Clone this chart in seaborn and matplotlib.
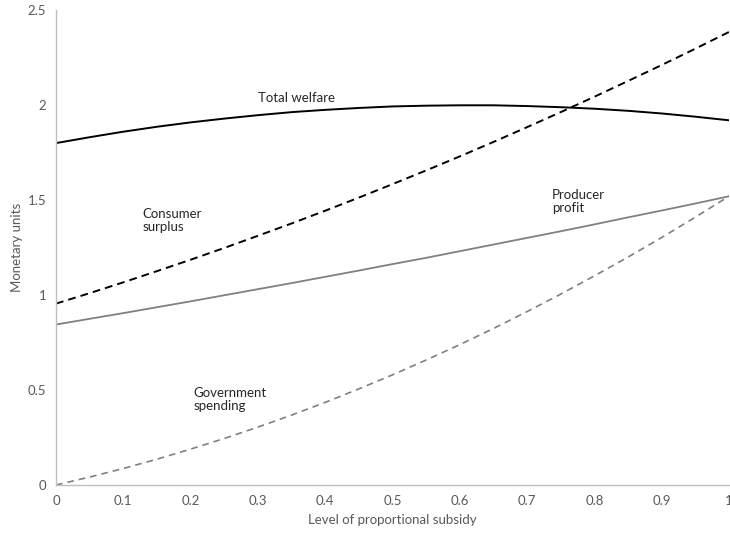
import pandas as pd
import seaborn as sns
import matplotlib.pyplot as plt

# Values
subsidy = [0.0, 0.05, 0.1, 0.15, 0.2, 0.25, 0.3, 0.35, 0.4, 0.45, 0.5,
           0.55, 0.6, 0.65, 0.7, 0.75, 0.8, 0.85, 0.9, 0.95, 1.0]
total_welfare = [1.800, 1.831, 1.860, 1.886, 1.909, 1.929, 1.947, 1.963, 1.975, 1.985, 1.993,
                 1.997, 1.999, 1.999, 1.995, 1.989, 1.981, 1.970, 1.956, 1.939, 1.920]
consumer_surplus = [0.955, 1.010, 1.067, 1.126, 1.186, 1.248, 1.312, 1.377, 1.444, 1.513, 1.584,
                    1.656, 1.730, 1.806, 1.884, 1.963, 2.044, 2.127, 2.211, 2.297, 2.385]
producer_profit = [0.845, 0.875, 0.905, 0.936, 0.967, 0.999, 1.031, 1.063, 1.096, 1.129, 1.163,
                   1.196, 1.231, 1.266, 1.301, 1.336, 1.372, 1.409, 1.445, 1.482, 1.520]
gov_spending = [0.000, 0.042, 0.087, 0.136, 0.189, 0.245, 0.305, 0.368, 0.435, 0.506, 0.580,
                0.658, 0.739, 0.824, 0.913, 1.005, 1.101, 1.200, 1.303, 1.410, 1.520]

x_ticks = [0, 0.1, 0.2, 0.3, 0.4, 0.5, 0.6, 0.7, 0.8, 0.9, 1]
x_tick_labels = ["0", "0.1", "0.2", "0.3", "0.4", "0.5", "0.6", "0.7", "0.8", "0.9", "1"]
y_ticks = [0, 0.5, 1, 1.5, 2, 2.5]
y_tick_labels = ["0", "0.5", "1", "1.5", "2", "2.5"]

df = pd.DataFrame({
    "s": subsidy,
    "Total welfare": total_welfare,
    "Consumer surplus": consumer_surplus,
    "Producer profit": producer_profit,
    "Government spending": gov_spending,
})

sns.set_style("white")
plt.rcParams["font.family"] = ["Lato", "DejaVu Sans"]

fig = plt.figure(figsize=(7.3, 5.33), dpi=100)
ax = fig.add_axes([0.0767, 0.090, 0.9219, 0.891])

styles = {
    "Total welfare": dict(color="black", lw=1.4),
    "Consumer surplus": dict(color="black", lw=1.4, dashes=(4, 2.6)),
    "Producer profit": dict(color="#808080", lw=1.3),
    "Government spending": dict(color="#808080", lw=1.2, dashes=(4, 3)),
}
for name, st in styles.items():
    line_kw = {"color": st["color"], "linewidth": st["lw"]}
    sns.lineplot(data=df, x="s", y=name, ax=ax, **line_kw)
    if "dashes" in st:
        ax.lines[-1].set_dashes(st["dashes"])

# labels next to the curves
lab_kw = dict(fontsize=9.5, color="#262626", va="center", ha="left", linespacing=1.1)
ax.text(0.30, 2.04, "Total welfare", **lab_kw)
ax.text(0.129, 1.39, "Consumer\nsurplus", **lab_kw)
ax.text(0.737, 1.49, "Producer\nprofit", **lab_kw)
ax.text(0.204, 0.45, "Government\nspending", **lab_kw)

ax.set_xlim(0, 1)
ax.set_ylim(0, 2.5)
ax.set_xticks(x_ticks)
ax.set_xticklabels(x_tick_labels)
ax.set_yticks(y_ticks)
ax.set_yticklabels(y_tick_labels)
ax.tick_params(axis="both", length=0, labelsize=9.5, labelcolor="#595959", pad=7)

for side in ["top", "right"]:
    ax.spines[side].set_visible(False)
for side in ["left", "bottom"]:
    ax.spines[side].set_color("#bfbfbf")
    ax.spines[side].set_linewidth(1.0)

ax.set_xlabel("Level of proportional subsidy", fontsize=9.5, color="#595959", labelpad=5)
ax.set_ylabel("Monetary units", fontsize=9.5, color="#595959", labelpad=3)

fig.savefig("out.png", dpi=100)
